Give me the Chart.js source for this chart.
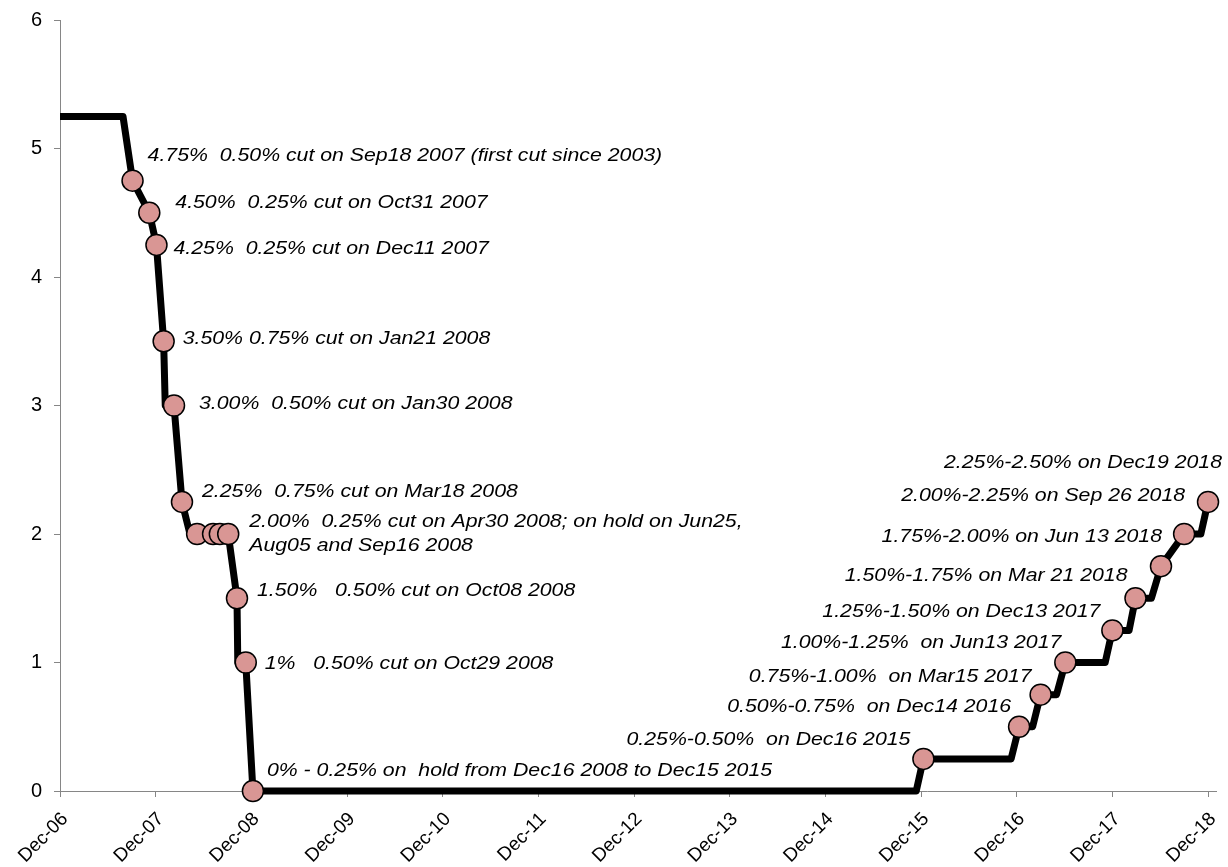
<!DOCTYPE html>
<html>
<head>
<meta charset="utf-8">
<script src="https://cdn.jsdelivr.net/npm/chart.js@4/dist/chart.umd.min.js"></script>
<style>
    html, body { margin: 0; padding: 0; background: #fff; }
    #wrap { width: 1228px; height: 867px; }
</style>
</head>
<body>
<div id="wrap"><canvas id="rateChart" width="1228" height="867"></canvas></div>
<script>
// Fed funds target rate path, x = months since Dec-06
const pathMonths = [0, 7.9, 9.1, 11.2, 12.1, 13.0, 13.2, 14.3, 15.3, 16.3, 21.1, 22.2, 22.3, 23.3, 24.2,
    107.4, 108.3, 119.3, 120.3, 122.0, 123.0, 125.0, 126.1, 131.1, 132.0, 134.1, 134.9, 136.9, 138.1, 141.0, 143.1, 144.0];
const pathRates = [5.25, 5.25, 4.75, 4.5, 4.25, 3.5, 3.0, 3.0, 2.25, 2.0, 2.0, 1.5, 1.0, 1.0, 0,
    0, 0.25, 0.25, 0.5, 0.5, 0.75, 0.75, 1.0, 1.0, 1.25, 1.25, 1.5, 1.5, 1.75, 2.0, 2.0, 2.25];

// FOMC decision markers
const markMonths = [9.1, 11.2, 12.1, 13.0, 14.3, 15.3, 17.2, 19.2, 20.05, 21.1, 22.2, 23.3, 24.2,
    108.3, 120.3, 123.0, 126.1, 132.0, 134.9, 138.1, 141.0, 144.0];
const markRates = [4.75, 4.5, 4.25, 3.5, 3.0, 2.25, 2.0, 2.0, 2.0, 2.0, 1.5, 1.0, 0,
    0.25, 0.5, 0.75, 1.0, 1.25, 1.5, 1.75, 2.0, 2.25];

// x axis ticks
const tickMonths = [0, 12, 24, 36, 48, 60, 72, 84, 96, 108, 120, 132, 144];
const tickLabels = ['Dec-06', 'Dec-07', 'Dec-08', 'Dec-09', 'Dec-10', 'Dec-11', 'Dec-12',
    'Dec-13', 'Dec-14', 'Dec-15', 'Dec-16', 'Dec-17', 'Dec-18'];

// annotation texts and the marker each one belongs to
const noteTexts = [
    '4.75%  0.50% cut on Sep18 2007 (first cut since 2003)',
    '4.50%  0.25% cut on Oct31 2007',
    '4.25%  0.25% cut on Dec11 2007',
    '3.50% 0.75% cut on Jan21 2008',
    '3.00%  0.50% cut on Jan30 2008',
    '2.25%  0.75% cut on Mar18 2008',
    '2.00%  0.25% cut on Apr30 2008; on hold on Jun25,\nAug05 and Sep16 2008',
    '1.50%   0.50% cut on Oct08 2008',
    '1%   0.50% cut on Oct29 2008',
    '0% - 0.25% on  hold from Dec16 2008 to Dec15 2015',
    '0.25%-0.50%  on Dec16 2015',
    '0.50%-0.75%  on Dec14 2016',
    '0.75%-1.00%  on Mar15 2017',
    '1.00%-1.25%  on Jun13 2017',
    '1.25%-1.50% on Dec13 2017',
    '1.50%-1.75% on Mar 21 2018',
    '1.75%-2.00% on Jun 13 2018',
    '2.00%-2.25% on Sep 26 2018',
    '2.25%-2.50% on Dec19 2018'
];
const noteMarker = [0, 1, 2, 3, 4, 5, 9, 10, 11, 12, 13, 14, 15, 16, 17, 18, 19, 20, 21];

// label placement relative to the marker (pixels)
const noteLayout = [
    ['left', 15, -25], ['left', 26, -10], ['left', 17, 4], ['left', 19, -3], ['left', 25, -2],
    ['left', 20, -10], ['left', 21, -12], ['left', 20, -8], ['left', 19, 1], ['left', 14, -20],
    ['right', -13, -19], ['right', -8, -20], ['right', -9, -18], ['right', -4, -20],
    ['right', -12, -19], ['right', -8, -23], ['right', 1, -29], ['right', 1, -38], ['right', 14, -39]
];

const FONT = '"Liberation Sans", Arial, sans-serif';
const AXIS_GREY = '#868686';

const notesPlugin = {
    id: 'notes',
    afterDatasetsDraw(chart) {
        const ctx = chart.ctx;
        const xs = chart.scales.x, ys = chart.scales.y;
        ctx.save();
        ctx.fillStyle = '#000';
        ctx.font = 'italic 19px ' + FONT;
        ctx.textBaseline = 'middle';
        noteTexts.forEach((txt, i) => {
            const m = noteMarker[i];
            const [align, dx, dy] = noteLayout[i];
            const px = xs.getPixelForValue(markMonths[m]) + dx;
            const py = ys.getPixelForValue(markRates[m]) + dy;
            txt.split('\n').forEach((line, j) => {
                ctx.save();
                ctx.translate(px, py + j * 24);
                ctx.scale(1.12, 1);
                ctx.textAlign = align;
                ctx.fillText(line, 0, 0);
                ctx.restore();
            });
        });
        ctx.restore();
    }
};

// keep the plot area fixed, the way the original sheet had it
function fixBox(scale, size) {
    if (scale.isHorizontal()) scale.height = size; else scale.width = size;
    scale.paddingLeft = 0;
    scale.paddingRight = 0;
    scale.paddingTop = 0;
    scale.paddingBottom = 0;
}

new Chart(document.getElementById('rateChart'), {
    data: {
        datasets: [{
            type: 'scatter',
            label: 'Decisions',
            data: markMonths.map((m, i) => ({ x: m, y: markRates[i] })),
            backgroundColor: '#D99694',
            borderColor: '#000',
            borderWidth: 1.5,
            pointRadius: 10.5,
            pointHoverRadius: 10.5,
            clip: false,
            order: 0
        }, {
            type: 'line',
            label: 'Fed funds rate',
            data: pathMonths.map((m, i) => ({ x: m, y: pathRates[i] })),
            borderColor: '#000',
            borderWidth: 7,
            borderJoinStyle: 'round',
            pointRadius: 0,
            tension: 0,
            fill: false,
            clip: false,
            order: 1
        }]
    },
    options: {
        responsive: false,
        animation: false,
        layout: { padding: { top: 20, right: 11, left: 0, bottom: 0 } },
        plugins: {
            legend: { display: false },
            tooltip: { enabled: false }
        },
        scales: {
            x: {
                type: 'linear',
                min: 0,
                max: 145,
                afterBuildTicks: (scale) => {
                    scale.ticks = tickMonths.map(v => ({ value: v }));
                },
                afterFit: (scale) => fixBox(scale, 76),
                grid: { drawOnChartArea: false, drawTicks: true, tickLength: 6, color: AXIS_GREY },
                border: { display: true, color: AXIS_GREY, width: 1 },
                ticks: {
                    minRotation: 45,
                    maxRotation: 45,
                    padding: 11,
                    labelOffset: 5,
                    color: '#000',
                    font: { family: FONT, size: 19 },
                    callback: (v) => tickLabels[tickMonths.indexOf(v)]
                }
            },
            y: {
                min: 0,
                max: 6,
                afterFit: (scale) => fixBox(scale, 60),
                grid: { drawOnChartArea: false, drawTicks: true, tickLength: 6, color: AXIS_GREY },
                border: { display: true, color: AXIS_GREY, width: 1 },
                ticks: {
                    stepSize: 1,
                    padding: 12,
                    color: '#000',
                    font: { family: FONT, size: 20 }
                }
            }
        }
    },
    plugins: [notesPlugin]
});
</script>
</body>
</html>
